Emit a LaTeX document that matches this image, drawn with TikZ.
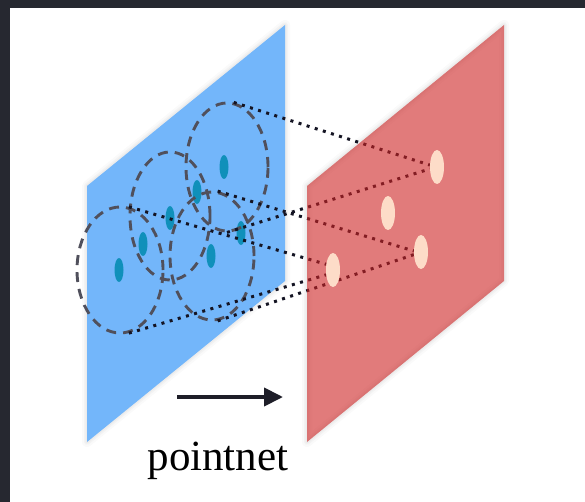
\documentclass[tikz,border=0pt]{standalone}
\usepackage{fontspec}
\setmainfont{Liberation Serif}
\usetikzlibrary{shapes.geometric,arrows.meta}
\definecolor{framec}{RGB}{38,40,48}
\definecolor{planeblue}{RGB}{115,182,250}
\definecolor{planered}{RGB}{205,35,35}
\definecolor{dotblue}{RGB}{16,144,186}
\definecolor{dotpeach}{RGB}{253,220,200}
\definecolor{ringgray}{RGB}{80,80,92}
\definecolor{linkc}{RGB}{20,20,35}
\definecolor{arrowc}{RGB}{30,30,40}
\tikzset{
  ring/.style={ellipse, draw=ringgray, line width=2.9pt, dash pattern=on 10pt off 7pt, inner sep=0pt},
  bdot/.style={ellipse, fill=dotblue, inner sep=0pt, minimum width=9pt, minimum height=24pt},
  rdot/.style={ellipse, fill=dotpeach, inner sep=0pt, minimum width=14pt, minimum height=34pt},
  link/.style={draw=linkc, line width=3pt, dash pattern=on 3pt off 5.5pt},
  glow/.style={draw=gray, line join=round},
}
\begin{document}
\begin{tikzpicture}[x=1pt,y=-1pt]
\useasboundingbox (0,0) rectangle (585,502);
\fill[white] (0,0) rectangle (585,502);
\fill[framec] (0,0) rectangle (585,8);
\fill[framec] (0,0) rectangle (10,502);

% soft glow around both planes
\foreach \w/\o in {10/0.04,6/0.05,3/0.06}{
  \draw[glow, line width=\w pt, draw opacity=\o] (87,186) -- (285,25) -- (285,281) -- (87,442) -- cycle;
  \draw[glow, line width=\w pt, draw opacity=\o] (307,186) -- (504,25) -- (504,281) -- (307,442) -- cycle;
}
\fill[planeblue] (87,186) -- (285,25) -- (285,281) -- (87,442) -- cycle;

% blue dots
\node[bdot] (b1) at (224,167) {};
\node[bdot] (b2) at (197,192) {};
\node[bdot] (b3) at (170,218) {};
\node[bdot] (b4) at (143,244) {};
\node[bdot] (b5) at (119,270) {};
\node[bdot] (b6) at (241,233) {};
\node[bdot] (b7) at (211,256) {};

% dashed neighbourhoods
\node[ring, minimum width=82pt, minimum height=128pt] (c1) at (227,167) {};
\node[ring, minimum width=80pt, minimum height=128pt] (c2) at (170,216) {};
\node[ring, minimum width=86pt, minimum height=126pt] (c3) at (120,270) {};
\node[ring, minimum width=84pt, minimum height=128pt] (c4) at (212,256) {};

% target dot positions (dots drawn later, above the red plane)
\coordinate (r1c) at (437,167);
\coordinate (r2c) at (388,213);
\coordinate (r3c) at (421,252);
\coordinate (r4c) at (333,270);
\node[rdot, opacity=0] (r1) at (r1c) {};
\node[rdot, opacity=0] (r3) at (r3c) {};
\node[rdot, opacity=0] (r4) at (r4c) {};

% dotted links
\draw[link] (c1.84) -- (r1.165);
\draw[link] (c1.south) -- (r1.195);
\draw[link] (c4.85) -- (r3.172);
\draw[link] (c4.-85) -- (r3.200);
\draw[link] (c3.82) -- (r4.140);
\draw[link] (c3.-82) -- (r4.215);

% red plane (semi-transparent)
\fill[planered, fill opacity=0.6] (307,186) -- (504,25) -- (504,281) -- (307,442) -- cycle;

% red plane dots
\node[rdot] (d1) at (r1c) {};
\node[rdot] (d2) at (r2c) {};
\node[rdot] (d3) at (r3c) {};
\node[rdot] (d4) at (r4c) {};

% arrow and label
\coordinate (a1) at (177,397);
\coordinate (a2) at (283,397);
\draw[arrowc, line width=4pt, -{Triangle[length=19pt,width=18pt]}] (a1) -- (a2);
\node[anchor=base, inner sep=0pt, font=\fontsize{43}{50}\selectfont, text=black] (lbl) at (218,470) {pointnet};
\end{tikzpicture}
\end{document}
